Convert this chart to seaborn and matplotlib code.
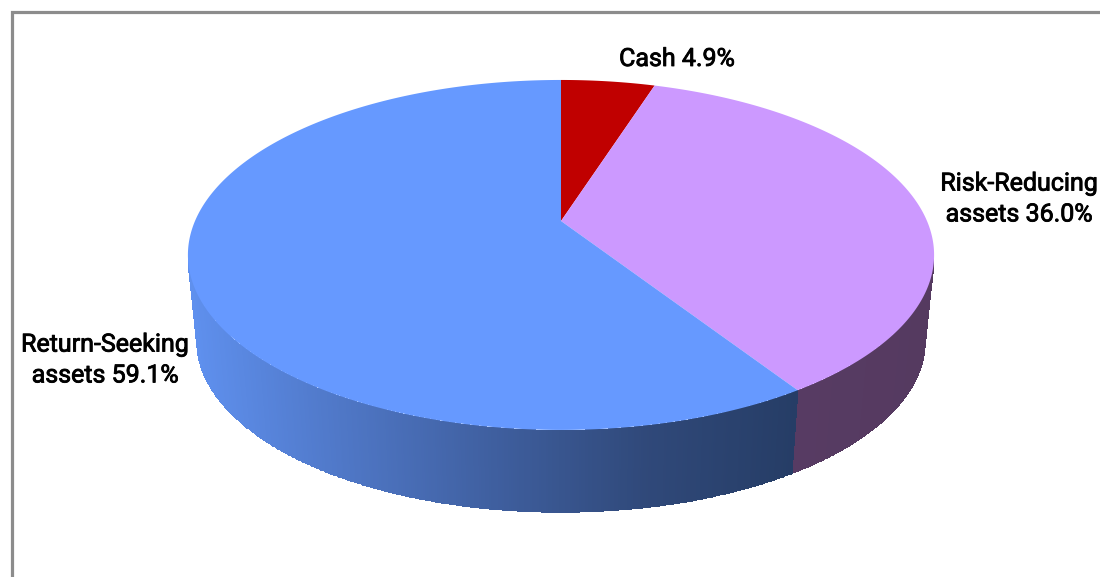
import numpy as np
import matplotlib
matplotlib.use("Agg")
import matplotlib.pyplot as plt
from matplotlib.colors import LinearSegmentedColormap
from matplotlib.patches import Polygon
import matplotlib.patheffects as pe
import seaborn as sns

# Allocation shares in drawing order, clockwise from twelve o'clock
categories = ["Cash", "Risk-Reducing\nassets", "Return-Seeking\nassets"]
shares = [4.9, 36.0, 59.1]

top_colors = sns.color_palette(["#C00000", "#CC99FF", "#6699FF"])
wall_stops = [
    ["#7A0000", "#7A0000"],
    ["#573B63", "#553A60"],
    ["#5F90EE", "#4F77C6", "#3F5F9F", "#30497A", "#263D66"],
]

sns.set_theme(style="white")
plt.rcParams["font.family"] = ["Roboto", "DejaVu Sans"]

fig = plt.figure(figsize=(11.0, 5.77), dpi=100)
ax = fig.add_axes([0, 0, 1, 1])
ax.set_xlim(0, 1100)
ax.set_ylim(577, 0)
ax.axis("off")

# Perspective tilt of the disc: the hub sits above the middle of the ellipse
hub_x, hub_y = 561.0, 221.0
scale_x, scale_y = 366.0, 168.4
tilt = 0.194
depth, shrink = 88.0, 0.975
front_from, front_to = 100.0, 260.0  # span of the rim facing the viewer


def rim(turn_deg, lower=False):
    """Project a clockwise angle from twelve o'clock onto the disc rim."""
    t = np.radians(turn_deg)
    w = 1 + tilt * np.cos(t)
    x, y = scale_x * np.sin(t) / w, -scale_y * np.cos(t) / w
    if lower:
        return hub_x + shrink * x, hub_y + depth + shrink * y
    return hub_x + x, hub_y + y


edges = 3.6 * np.concatenate([[0], np.cumsum(shares)])

# Side walls first, shaded left to right along the visible front of the disc
for i in range(len(shares)):
    start, stop = max(edges[i], front_from), min(edges[i + 1], front_to)
    if start >= stop:
        continue
    turns = np.linspace(start, stop, 400)
    xt, yt = rim(turns)
    xb, yb = rim(turns, lower=True)
    X, Y = np.vstack([xt, xb]), np.vstack([yt, yb])
    cmap = LinearSegmentedColormap.from_list(f"wall{i}", wall_stops[i])
    lo, hi = xt.min(), xt.max()
    shade = ((0.5 * (xt[:-1] + xt[1:]) - lo) / (hi - lo))[None, :]
    ax.pcolormesh(X, Y, shade, cmap=cmap, vmin=0, vmax=1, shading="flat",
                  antialiased=False, linewidth=0, zorder=1)

# Top surface of each slice
for i in range(len(shares)):
    turns = np.linspace(edges[i], edges[i + 1], 300)
    xt, yt = rim(turns)
    pts = np.column_stack([np.r_[hub_x, xt], np.r_[hub_y, yt]])
    ax.add_patch(Polygon(pts, closed=True, facecolor=top_colors[i],
                         edgecolor="none", zorder=2))

# Frame: only the top and left edges fall inside the canvas
ax.plot([11.5, 11.5, 1100], [577, 11.5, 11.5], color="#8C8C8C", lw=2.3,
        solid_joinstyle="miter", zorder=3)

# Slice labels
label_xy = [(677, 59), (1019, 199), (105, 360)]
for name, val, (lx, ly) in zip(categories, shares, label_xy):
    ax.text(lx, ly, f"{name} {val:.1f}%", ha="center", va="center",
            ma="center", fontsize=18, color="black", linespacing=1.36,
            fontweight="normal", zorder=4,
            path_effects=[pe.withStroke(linewidth=0.6, foreground="black")])

fig.savefig("out.png", dpi=100, facecolor="white")
